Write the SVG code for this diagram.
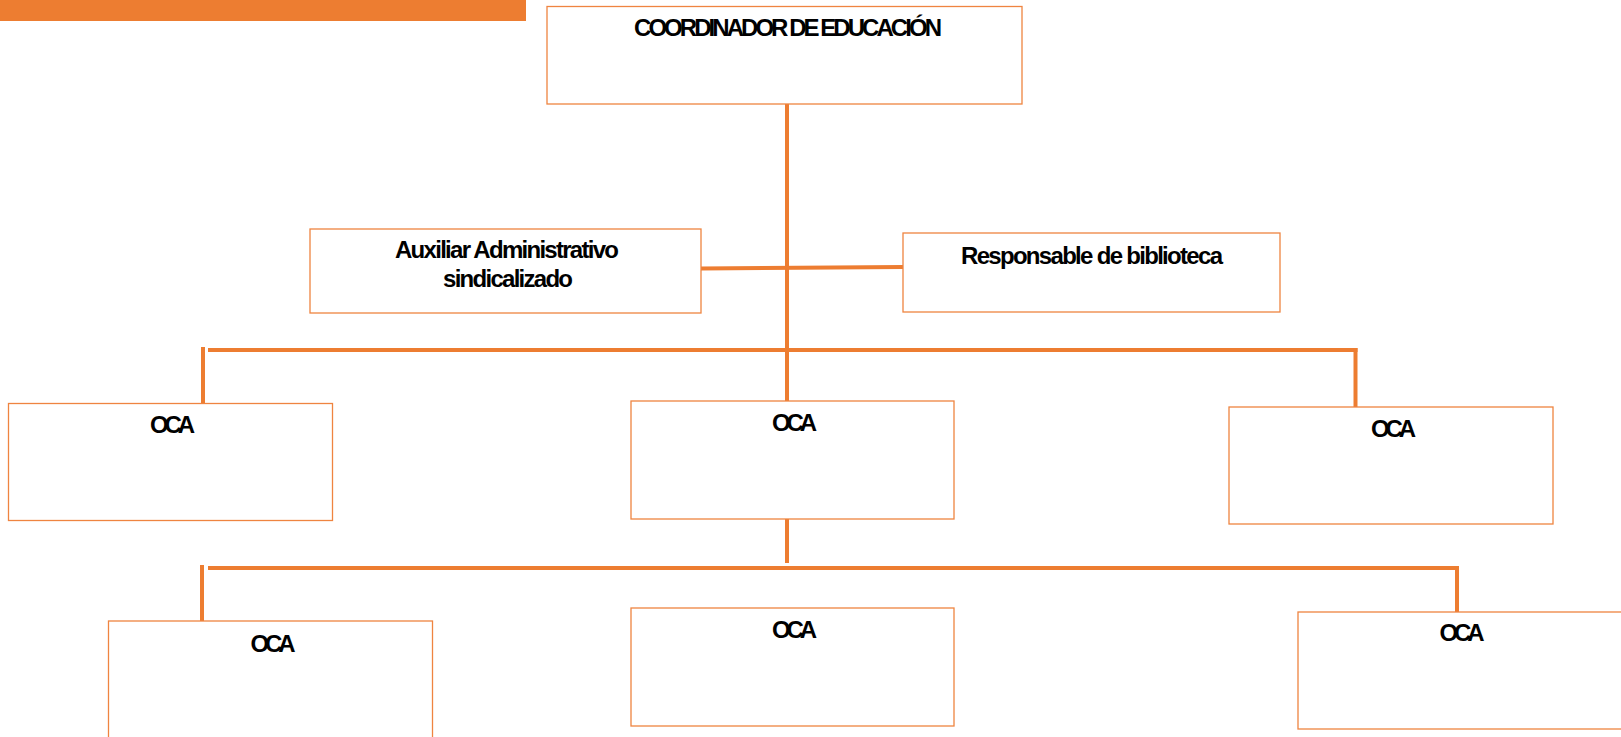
<svg xmlns="http://www.w3.org/2000/svg" width="1621" height="737" viewBox="0 0 1621 737">
  <style>
    .box { fill: #FFFFFF; stroke: #EF8440; stroke-width: 1.3; }
    .lbl { font-family: "Liberation Sans", Arial, sans-serif; font-weight: bold; font-size: 24px; fill: #000000; text-anchor: middle; }
    .conn { stroke: #ED7D31; stroke-width: 4; fill: none; }
  </style>
  <rect x="0" y="0" width="526" height="21" fill="#ED7D31"/>
  <g id="connectors">
    <line class="conn" x1="787" y1="104" x2="787" y2="401"/>
    <line class="conn" x1="701" y1="268.5" x2="903" y2="267"/>
    <line class="conn" x1="208" y1="350" x2="1357.5" y2="350"/>
    <line class="conn" x1="203" y1="347" x2="203" y2="403"/>
    <line class="conn" x1="1355.5" y1="348" x2="1355.5" y2="407"/>
    <line class="conn" x1="787" y1="519" x2="787" y2="563"/>
    <line class="conn" x1="208" y1="568" x2="1459" y2="568"/>
    <line class="conn" x1="202" y1="565" x2="202" y2="621"/>
    <line class="conn" x1="1457" y1="566" x2="1457" y2="612"/>
  </g>
  <g id="coordinador">
    <rect class="box" x="547" y="6.5" width="475" height="97.5"/>
    <text class="lbl" x="788" y="36" textLength="308" lengthAdjust="spacing">COORDINADOR DE EDUCACIÓN</text>
  </g>
  <g id="auxiliar">
    <rect class="box" x="310" y="229" width="391" height="84"/>
    <text class="lbl" x="507" y="257.5" textLength="224" lengthAdjust="spacing">Auxiliar Administrativo</text>
    <text class="lbl" x="508" y="286.5" textLength="130" lengthAdjust="spacing">sindicalizado</text>
  </g>
  <g id="responsable">
    <rect class="box" x="903" y="233" width="377" height="79"/>
    <text class="lbl" x="1092" y="264" textLength="262" lengthAdjust="spacing">Responsable de biblioteca</text>
  </g>
  <g id="oca1">
    <rect class="box" x="8.5" y="403.5" width="324" height="117"/>
    <text class="lbl" x="172.5" y="433" textLength="45" lengthAdjust="spacing">OCA</text>
  </g>
  <g id="oca2">
    <rect class="box" x="631" y="401" width="323" height="118"/>
    <text class="lbl" x="794.5" y="431" textLength="45" lengthAdjust="spacing">OCA</text>
  </g>
  <g id="oca3">
    <rect class="box" x="1229" y="407" width="324" height="117"/>
    <text class="lbl" x="1393.5" y="437" textLength="45" lengthAdjust="spacing">OCA</text>
  </g>
  <g id="oca4">
    <rect class="box" x="108.5" y="621" width="324" height="130"/>
    <text class="lbl" x="273" y="651.5" textLength="45" lengthAdjust="spacing">OCA</text>
  </g>
  <g id="oca5">
    <rect class="box" x="631" y="608" width="323" height="118"/>
    <text class="lbl" x="794.5" y="637.5" textLength="45" lengthAdjust="spacing">OCA</text>
  </g>
  <g id="oca6">
    <rect class="box" x="1298" y="612" width="330" height="117"/>
    <text class="lbl" x="1462" y="641" textLength="45" lengthAdjust="spacing">OCA</text>
  </g>
</svg>
